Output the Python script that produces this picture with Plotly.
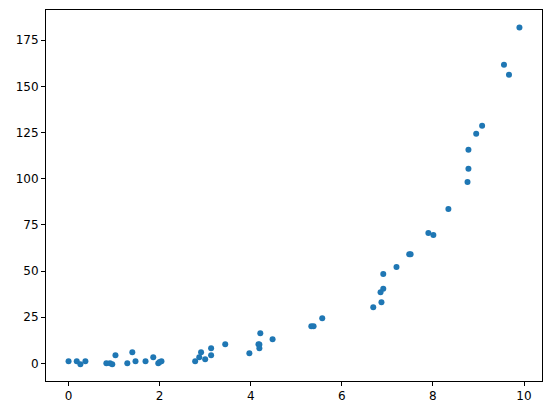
import plotly.graph_objects as go

x_vals = [0.00, 0.18, 0.26, 0.37, 0.83, 0.91, 0.96, 1.03, 1.29, 1.40, 1.47, 1.69, 1.86, 1.97, 2.04, 2.00,
          2.78, 2.87, 2.91, 3.00, 3.13, 3.13, 3.44,
          3.97, 4.17, 4.19, 4.19, 4.21, 4.48, 5.33, 5.38, 5.57,
          6.69, 6.87, 6.85, 6.91, 6.91, 7.20, 7.48, 7.51, 7.90, 8.01, 8.34, 8.76, 8.78, 8.78,
          8.95, 9.08, 9.56, 9.67, 9.90]
y_vals = [1.2, 1.2, -0.4, 1.2, 0.1, 0.1, -0.4, 4.4, 0.1, 6.1, 1.2, 1.2, 3.4, 0.1, 1.2, 0.8,
          1.2, 3.4, 6.1, 2.3, 4.4, 8.2, 10.4,
          5.5, 10.4, 10.2, 8.2, 16.4, 13.1, 20.2, 20.2, 24.5,
          30.5, 33.2, 38.6, 40.4, 48.4, 52.2, 59.2, 59.2, 70.6, 69.6, 83.7, 98.3, 105.4, 115.7,
          124.4, 128.7, 161.8, 156.4, 181.9]

x_ticks = [0, 2, 4, 6, 8, 10]
y_ticks = [0, 25, 50, 75, 100, 125, 150, 175]

fig = go.Figure(go.Scatter(
    x=x_vals, y=y_vals, mode="markers",
    marker=dict(color="#1f77b4", size=6, line=dict(width=0)),
))

axis_common = dict(
    showgrid=False, zeroline=False, showline=True, linecolor="black", linewidth=1,
    mirror=True, ticks="outside", ticklen=4, tickwidth=1, tickcolor="black",
    tickfont=dict(family="DejaVu Sans", size=12, color="black"),
)

fig.update_layout(
    width=544, height=405,
    margin=dict(l=38, r=10, t=2, b=32),
    paper_bgcolor="white", plot_bgcolor="white",
    showlegend=False,
    xaxis=dict(range=[-0.495, 10.395], tickvals=x_ticks, automargin=False, **axis_common),
    yaxis=dict(range=[-9.5, 191.4], tickvals=y_ticks, automargin=False, **axis_common),
)

fig.write_html("out.html")
